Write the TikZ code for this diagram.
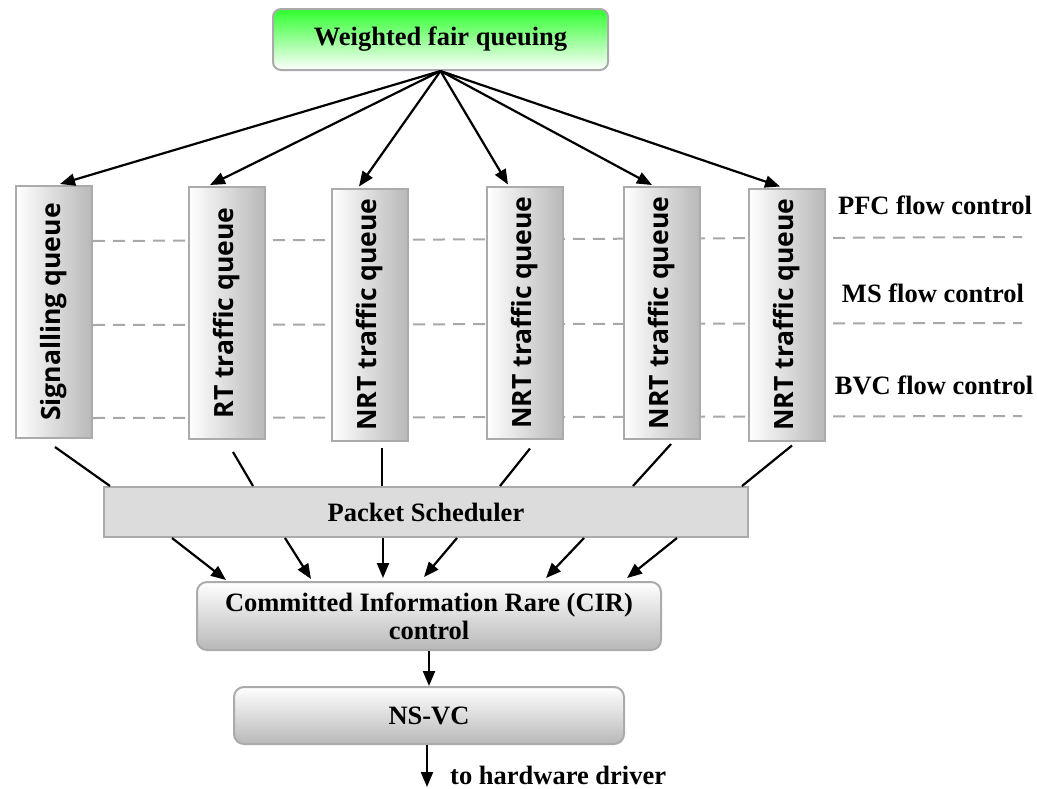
\documentclass[tikz,border=0pt]{standalone}
\usepackage{fontspec}
\setmainfont{Liberation Serif}
\newfontfamily\queuefont{Open Sans}
\usetikzlibrary{arrows.meta,calc}
\definecolor{edgegray}{HTML}{ABABAB}
\definecolor{dashgray}{HTML}{A8A8A8}
\definecolor{shadegray}{HTML}{B8B8B8}
\definecolor{schedgray}{HTML}{DCDCDC}
\definecolor{wfqgreen}{HTML}{2EFF2E}
\newcommand{\qlabel}[1]{\rotatebox{90}{\queuefont\bfseries\fontsize{26.5}{26.5}\selectfont #1}}
\begin{document}
\begin{tikzpicture}[x=1pt,y=-1pt,
  font=\fontsize{26.5}{28}\selectfont\bfseries,
  >={Triangle[length=15pt,width=12pt]},
  queue/.style={draw=edgegray,line width=2pt,left color=white,right color=shadegray,
    minimum width=76pt,minimum height=252pt,inner sep=0pt},
  wfqbox/.style={draw=edgegray,line width=2pt,rounded corners=8pt,
    top color=wfqgreen,bottom color=white,minimum width=335pt,minimum height=61pt},
  schedbox/.style={draw=edgegray,line width=2pt,fill=schedgray,
    minimum width=644pt,minimum height=50pt},
  ctrlbox/.style={draw=edgegray,line width=2pt,rounded corners=10pt,
    top color=white,bottom color=shadegray,align=center,inner sep=0pt},
  arrow/.style={line width=2.2pt,->},
  link/.style={line width=2.2pt},
  dashline/.style={draw=dashgray,line width=2pt,dash pattern=on 12pt off 8pt},
  flowlabel/.style={anchor=base,inner sep=0pt}]

\useasboundingbox (0,0) rectangle (1037,788);

% flow control levels, drawn first so the queues cover them
\draw[dashline] (93,241) -- (1022,237);
\draw[dashline] (93,325) -- (1022,323);
\draw[dashline] (93,418) -- (1022,416);

\node[flowlabel] (pfc) at (935,214) {PFC flow control};
\node[flowlabel] (ms)  at (933,302) {MS flow control};
\node[flowlabel] (bvc) at (934,394) {BVC flow control};

% scheduler at the top
\node[wfqbox] (wfq) at (440.5,39.5) {Weighted fair queuing};

% the six queues
\node[queue] (q1) at (54,312)    {\qlabel{Signalling queue}};
\node[queue] (q2) at (227,313)   {\qlabel{RT traffic queue}};
\node[queue] (q3) at (370,314.5) {\qlabel{NRT traffic queue}};
\node[queue] (q4) at (525,312.5) {\qlabel{NRT traffic queue}};
\node[queue] (q5) at (662,313)   {\qlabel{NRT traffic queue}};
\node[queue] (q6) at (787,314.5) {\qlabel{NRT traffic queue}};

% packet scheduler and lower stages
\node[schedbox] (pk) at (426,512) {Packet Scheduler};
\node[ctrlbox,minimum width=464pt,minimum height=68pt] (cir) at (429,616)
  {Committed Information Rare (CIR)\\control};
\node[ctrlbox,minimum width=390pt,minimum height=57pt] (ns) at (429,715.5) {NS-VC};
\coordinate (hw) at (427,787);
\node[anchor=base west,inner sep=0pt] (hwlabel) at (450,784) {to hardware driver};

% WFQ to queues
\draw[arrow] (wfq.south) -- ($(q1.north)+(6,-1)$);
\draw[arrow] (wfq.south) -- ($(q2.north)+(-17,-1)$);
\draw[arrow] (wfq.south) -- ($(q3.north)+(-11,-1)$);
\draw[arrow] (wfq.south) -- ($(q4.north)+(-17,-1)$);
\draw[arrow] (wfq.south) -- ($(q5.north)+(-10,-1)$);
\draw[arrow] (wfq.south) -- ($(q6.north)+(-7,-1)$);

% queues into the packet scheduler
\draw[link] ($(q1.south)+(1,8)$)  -- ($(pk.north)+(-316,0)$);
\draw[link] ($(q2.south)+(6,12)$) -- ($(pk.north)+(-173,0)$);
\draw[link] ($(q3.south)+(12,6)$) -- ($(pk.north)+(-44,0)$);
\draw[link] ($(q4.south)+(5,9)$)  -- ($(pk.north)+(74,0)$);
\draw[link] ($(q5.south)+(9,4)$)  -- ($(pk.north)+(207,0)$);
\draw[link] ($(q6.south)+(5,4)$)  -- ($(pk.north)+(316,0)$);

% packet scheduler into CIR control
\draw[arrow] ($(pk.south)+(-254,0)$) -- ($(cir.north)+(-203,-1)$);
\draw[arrow] ($(pk.south)+(-141,0)$) -- ($(cir.north)+(-118,-2)$);
\draw[arrow] ($(pk.south)+(-43,0)$)  -- ($(cir.north)+(-46,-3)$);
\draw[arrow] ($(pk.south)+(31,0)$)   -- ($(cir.north)+(-5,-4)$);
\draw[arrow] ($(pk.south)+(158,0)$)  -- ($(cir.north)+(117,-3)$);
\draw[arrow] ($(pk.south)+(251,0)$)  -- ($(cir.north)+(198,-3)$);

% down to the driver
\draw[arrow] (cir.south) -- (ns.north);
\draw[arrow] ($(ns.south)+(-2,0)$) -- (hw);
\end{tikzpicture}
\end{document}
